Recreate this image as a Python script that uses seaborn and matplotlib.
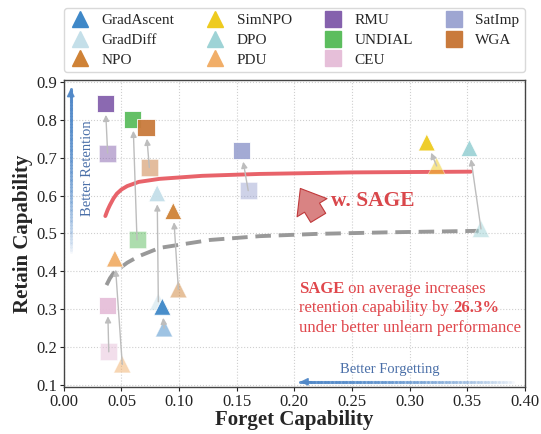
import matplotlib.pyplot as plt
import seaborn as sns
import pandas as pd
import numpy as np
from matplotlib.lines import Line2D
from matplotlib.collections import LineCollection
from matplotlib.colors import to_rgba

methods = ['GradAscent', 'GradDiff', 'NPO', 'SimNPO', 'DPO', 'PDU',
           'RMU', 'UNDIAL', 'CEU', 'SatImp', 'WGA']
base_forget = [0.087, 0.082, 0.0994, 0.3235, 0.362, 0.0507,
               0.038, 0.0635, 0.039, 0.160, 0.0742]
base_retain = [0.250, 0.320, 0.353, 0.678, 0.512, 0.155,
               0.712, 0.483, 0.188, 0.613, 0.674]
sage_forget = [0.0855, 0.081, 0.095, 0.315, 0.352, 0.0443,
               0.036, 0.060, 0.038, 0.154, 0.0713]
sage_retain = [0.307, 0.606, 0.559, 0.740, 0.725, 0.434,
               0.842, 0.800, 0.311, 0.718, 0.779]

# fitted trend lines
sage_curve_x = [0.036, 0.038, 0.040, 0.043, 0.046, 0.050, 0.055, 0.065, 0.083,
                0.12, 0.17, 0.25, 0.30, 0.353]
sage_curve_y = [0.546, 0.562, 0.575, 0.592, 0.605, 0.616, 0.625, 0.636, 0.644,
                0.652, 0.657, 0.661, 0.662, 0.663]
base_curve_x = [0.037, 0.040, 0.043, 0.047, 0.055, 0.065, 0.083, 0.127, 0.17,
                0.22, 0.28, 0.36]
base_curve_y = [0.364, 0.382, 0.395, 0.405, 0.423, 0.440, 0.462, 0.483, 0.493,
                0.499, 0.503, 0.507]

colors = {'GradAscent': '#3f88c8', 'GradDiff': '#c4dfe9', 'NPO': '#cf8236',
          'SimNPO': '#eecb1f', 'DPO': '#9ed3d6', 'PDU': '#f1ae68',
          'RMU': '#8561ad', 'UNDIAL': '#5cbd5e', 'CEU': '#e6bfd9',
          'SatImp': '#9ea6d2', 'WGA': '#c97a3c'}
markers = {m: ('^' if i < 6 else 's') for i, m in enumerate(methods)}

df = pd.DataFrame({'method': methods,
                   'base_f': base_forget, 'base_r': base_retain,
                   'sage_f': sage_forget, 'sage_r': sage_retain})

sns.set_theme(style='whitegrid')
plt.rcParams['font.family'] = ['Liberation Serif', 'DejaVu Serif']

fig = plt.figure(figsize=(5.41, 4.34), dpi=100)
ax = fig.add_axes([0.118, 0.108, 0.852, 0.708])

# curves
sns.lineplot(x=sage_curve_x, y=sage_curve_y, ax=ax, color='#e8636a', lw=2.8,
             sort=False, zorder=2)
sns.lineplot(x=base_curve_x, y=base_curve_y, ax=ax, color='#999999', lw=2.8,
             sort=False, zorder=2, linestyle=(0, (4, 2)))

# baseline (faded) markers
sns.scatterplot(data=df, x='base_f', y='base_r', hue='method', style='method',
                palette=colors, markers=markers, s=150, alpha=0.5,
                edgecolor='white', linewidth=0.6, legend=False, ax=ax, zorder=3)

# arrows from baseline to SAGE
for _, r in df.iterrows():
    ax.annotate('', xy=(r.sage_f, r.sage_r), xytext=(r.base_f, r.base_r),
                arrowprops=dict(arrowstyle='-|>', color='#bdbdbd', lw=1.0,
                                mutation_scale=9, shrinkA=0, shrinkB=8),
                zorder=4)

# SAGE markers
sns.scatterplot(data=df, x='sage_f', y='sage_r', hue='method', style='method',
                palette=colors, markers=markers, s=150, alpha=0.95,
                edgecolor='white', linewidth=0.6, legend=False, ax=ax, zorder=5)


def gradient_arrow(p0, p1, color, n=60):
    # fading line from p0 (transparent) to p1 (solid) with head at p1
    xs = np.linspace(p0[0], p1[0], n + 1)
    ys = np.linspace(p0[1], p1[1], n + 1)
    segs = [[(xs[i], ys[i]), (xs[i + 1], ys[i + 1])] for i in range(n)]
    base = np.array(to_rgba(color))
    cols = []
    for i in range(n):
        c = base.copy()
        c[3] = 0.05 + 0.85 * (i / n) ** 0.8
        cols.append(c)
    lc = LineCollection(segs, colors=cols, linewidths=2.2, capstyle='round',
                        zorder=6)
    ax.add_collection(lc)
    ax.annotate('', xy=p1, xytext=(xs[-4], ys[-4]),
                arrowprops=dict(arrowstyle='-|>', color=color, lw=1.2,
                                alpha=0.9, mutation_scale=11, shrinkA=0,
                                shrinkB=0),
                zorder=7)


gradient_arrow((0.006, 0.45), (0.006, 0.882), '#5088c8')
gradient_arrow((0.39, 0.109), (0.205, 0.109), '#5088c8')
ax.text(0.0145, 0.672, 'Better Retention', rotation=90, color='#4a6fa8',
        fontsize=10.5, ha='left', va='center')
ax.text(0.283, 0.142, 'Better Forgetting', color='#4a6fa8', fontsize=10.5,
        ha='center', va='center')

# big red arrow and label
ax.annotate('', xy=(0.204, 0.625), xytext=(0.222, 0.535),
            arrowprops=dict(arrowstyle='simple,head_width=1.4,head_length=0.9,tail_width=0.7',
                            fc='#d98383', ec='#c0393b', lw=0.8, mutation_scale=18),
            zorder=6)
ax.text(0.232, 0.585, 'w. SAGE', color='#d9474b', fontsize=15.5,
        fontweight='bold', ha='left', va='center')

red = '#e0474c'
t1 = ax.text(0.204, 0.353, 'SAGE', color=red, fontsize=12, fontweight='bold',
             ha='left', va='center')
ax.annotate(' on average increases', xy=(1, 0), xycoords=t1, color=red,
            fontsize=12, ha='left', va='bottom')
t2 = ax.text(0.204, 0.303, 'retention capability by ', color=red, fontsize=12,
             ha='left', va='center')
ax.annotate('26.3%', xy=(1, 0), xycoords=t2, color=red, fontsize=12,
            fontweight='bold', ha='left', va='bottom')
ax.text(0.204, 0.251, 'under better unlearn performance', color=red,
        fontsize=12, ha='left', va='center')

ax.set_xlim(0, 0.40)
ax.set_ylim(0.095, 0.905)
ax.set_xticks(np.arange(0, 0.401, 0.05))
ax.set_yticks(np.arange(0.1, 0.91, 0.1))
ax.xaxis.set_major_formatter(plt.FormatStrFormatter('%.2f'))
ax.yaxis.set_major_formatter(plt.FormatStrFormatter('%.1f'))
ax.tick_params(labelsize=12, length=3, width=0.8, colors='#222222',
               direction='out', bottom=True, left=True, pad=2)
ax.grid(True, linestyle=':', color='#cfcfcf', lw=0.8)
for s in ax.spines.values():
    s.set_color('#444444')
    s.set_linewidth(1.0)
ax.set_xlabel('Forget Capability', fontsize=15, fontweight='bold', labelpad=0)
ax.set_ylabel('Retain Capability', fontsize=15, fontweight='bold', labelpad=2)

handles = [Line2D([], [], marker=markers[m], color=colors[m], linestyle='',
                  markersize=11, label=m) for m in methods]
ax.legend(handles=handles, loc='lower left', bbox_to_anchor=(0, 1.025, 1, 0.2),
          mode='expand', ncol=4, fontsize=11, frameon=True, fancybox=True,
          edgecolor='#d0d0d0', handlelength=1.4, handletextpad=0.7,
          labelspacing=0.4, borderpad=0.35, borderaxespad=0)

fig.savefig('out.png', dpi=100)
